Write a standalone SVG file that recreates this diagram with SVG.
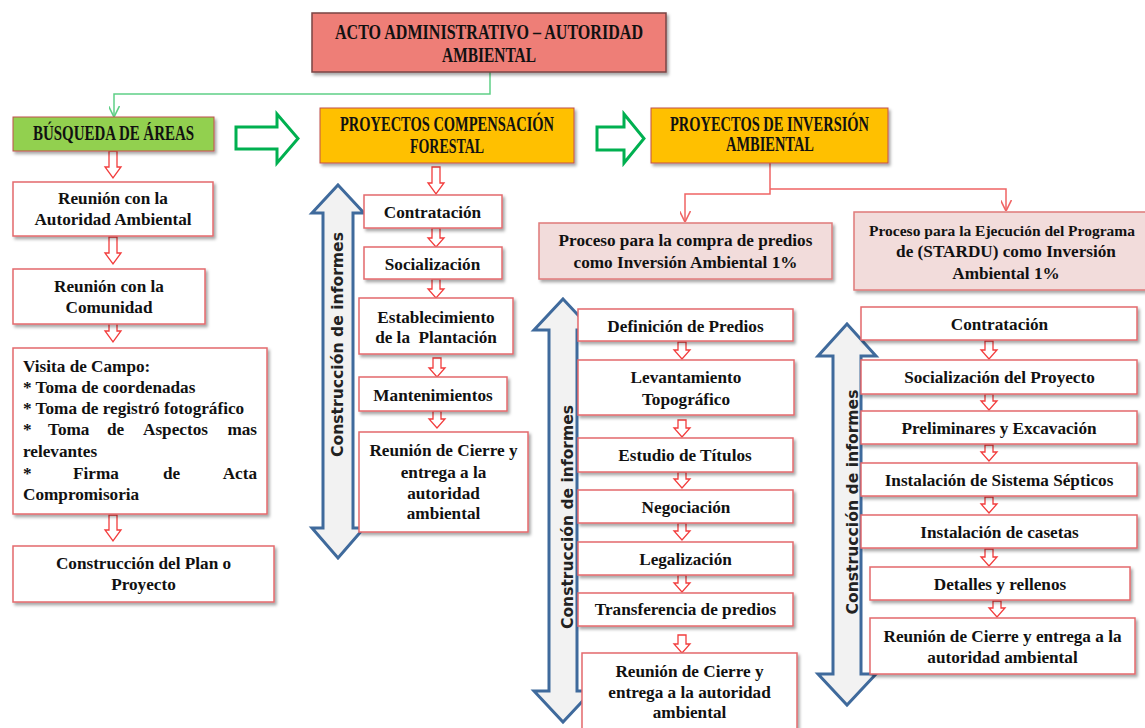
<svg xmlns="http://www.w3.org/2000/svg" width="1145" height="728" viewBox="0 0 1145 728">
<defs>
<filter id="sh" x="-10%" y="-10%" width="130%" height="140%">
<feDropShadow dx="2" dy="2.5" stdDeviation="1.5" flood-color="#000" flood-opacity="0.35"/>
</filter>
<marker id="mr" viewBox="0 0 10 10" refX="10" refY="5" markerWidth="11" markerHeight="11" markerUnits="userSpaceOnUse" orient="auto">
<path d="M0,0 L10,5 L0,10" fill="none" stroke="#f06464" stroke-width="1.5"/>
</marker>
<marker id="mg" viewBox="0 0 10 10" refX="10" refY="5" markerWidth="11" markerHeight="11" markerUnits="userSpaceOnUse" orient="auto">
<path d="M0,0 L10,5 L0,10" fill="none" stroke="#5fcf86" stroke-width="1.5"/>
</marker>
</defs>
<style>
.box{fill:#fff;stroke:#e46a6c;stroke-width:1.5;filter:url(#sh)}
.hdr{stroke:#c0504d;stroke-width:1;filter:url(#sh)}
.proc{fill:#f2dcdb;stroke:#e07a7a;stroke-width:1.5;filter:url(#sh)}
.t{font-family:"Liberation Serif","Times New Roman",serif;font-weight:bold;font-size:17.2px;fill:#111;text-anchor:middle}
.tl{font-family:"Liberation Serif","Times New Roman",serif;font-weight:bold;font-size:17.2px;fill:#111}
.h{font-family:"Liberation Serif","Times New Roman",serif;font-weight:bold;font-size:20px;fill:#111;text-anchor:middle}
.v{font-family:"DejaVu Sans","Liberation Sans",sans-serif;font-weight:bold;font-size:16px;fill:#222;text-anchor:middle}
.ra{fill:#fff;stroke:#f23c3c;stroke-width:1.3}
.ga{fill:#fff;stroke:#00b050;stroke-width:3}
.da{fill:#f2f2f2;stroke:#3f6a9c;stroke-width:3}
.cr{fill:none;stroke:#f06464;stroke-width:1.5}
.cg{fill:none;stroke:#5fcf86;stroke-width:1.5}
</style>

<g id="connectors">
<path class="cg" d="M490,72 V94 H114 V117" marker-end="url(#mg)"/>
<path class="cr" d="M770,163 V194 H685 V222" marker-end="url(#mr)"/>
<path class="cr" d="M770,189 H1006 V211" marker-end="url(#mr)"/>
<path class="ga" d="M236,127 H277 V114 L298,138.5 L277,163 V149 H236 Z"/>
<path class="ga" d="M597,127 H624 V114 L644,138.5 L624,163 V150 H597 Z"/>
<path class="ra" d="M109,151 H117 V167 H121 L113,178 L105,167 H109 Z"/>
<path class="ra" d="M109,237 H117 V253 H121 L113,264 L105,253 H109 Z"/>
<path class="ra" d="M109,317 H117 V331 H121 L113,342 L105,331 H109 Z"/>
<path class="ra" d="M109,515 H117 V530 H121 L113,541 L105,530 H109 Z"/>
<path class="ra" d="M432,167 H440 V183 H444 L436,194 L428,183 H432 Z"/>
<path class="ra" d="M432,228 H440 V238 H444 L436,247 L428,238 H432 Z"/>
<path class="ra" d="M432,279 H440 V289 H444 L436,298 L428,289 H432 Z"/>
<path class="ra" d="M433,358 H441 V368 H445 L437,377 L429,368 H433 Z"/>
<path class="ra" d="M433,411 H441 V419 H445 L437,428 L429,419 H433 Z"/>
<path class="ra" d="M678,342 H686 V350 H690 L682,359 L674,350 H678 Z"/>
<path class="ra" d="M678,420 H686 V428 H690 L682,437 L674,428 H678 Z"/>
<path class="ra" d="M678,472 H686 V479 H690 L682,488 L674,479 H678 Z"/>
<path class="ra" d="M678,523 H686 V531 H690 L682,540 L674,531 H678 Z"/>
<path class="ra" d="M678,575 H686 V583 H690 L682,592 L674,583 H678 Z"/>
<path class="ra" d="M678,635 H686 V644 H690 L682,653 L674,644 H678 Z"/>
<path class="ra" d="M985,341 H993 V350 H997 L989,359 L981,350 H985 Z"/>
<path class="ra" d="M985,394 H993 V401 H997 L989,410 L981,401 H985 Z"/>
<path class="ra" d="M985,445 H993 V452 H997 L989,461 L981,452 H985 Z"/>
<path class="ra" d="M985,497 H993 V504 H997 L989,513 L981,504 H985 Z"/>
<path class="ra" d="M985,549 H993 V557 H997 L989,566 L981,557 H985 Z"/>
<path class="ra" d="M993,601 H1001 V608 H1005 L997,617 L989,608 H993 Z"/>
</g>

<g id="informes-1">
<path class="da" d="M338,185 L364,213 H353 V528 H364 L338,558 L312,528 H323 V213 H312 Z"/>
<text class="v" transform="translate(337,344.5) rotate(-90)" x="0" y="5.5" textLength="225" lengthAdjust="spacingAndGlyphs">Construcción de informes</text>
</g>
<g id="informes-2">
<path class="da" d="M563,299 L592,330 H577 V691 H592 L563,722 L534,691 H549 V330 H534 Z"/>
<text class="v" transform="translate(567,517) rotate(-90)" x="0" y="5.5" textLength="224" lengthAdjust="spacingAndGlyphs">Construcción de informes</text>
</g>
<g id="informes-3">
<path class="da" d="M847,324 L876,356 H861 V674 H876 L847,705 L818,674 H833 V356 H818 Z"/>
<text class="v" transform="translate(852,502) rotate(-90)" x="0" y="5.5" textLength="225" lengthAdjust="spacingAndGlyphs">Construcción de informes</text>
</g>

<g id="acto">
<rect x="312" y="13" width="354" height="59" fill="#ee7e77" stroke="#7a4444" stroke-width="1.5" filter="url(#sh)"/>
<text class="h" x="489" y="39" textLength="308" lengthAdjust="spacingAndGlyphs">ACTO ADMINISTRATIVO – AUTORIDAD</text>
<text class="h" x="489" y="62" textLength="94" lengthAdjust="spacingAndGlyphs">AMBIENTAL</text>
</g>
<g id="busqueda">
<rect class="hdr" x="13" y="117" width="201" height="34" fill="#92d050"/>
<text class="h" x="113.5" y="140" textLength="161" lengthAdjust="spacingAndGlyphs">BÚSQUEDA DE ÁREAS</text>
</g>
<g id="compensacion">
<rect class="hdr" x="320" y="108" width="254" height="55" fill="#ffc000"/>
<text class="h" x="447" y="131" textLength="214" lengthAdjust="spacingAndGlyphs">PROYECTOS COMPENSACIÓN</text>
<text class="h" x="447" y="153" textLength="74" lengthAdjust="spacingAndGlyphs">FORESTAL</text>
</g>
<g id="inversion">
<rect class="hdr" x="651" y="108" width="237" height="55" fill="#ffc000"/>
<text class="h" x="769.5" y="131" textLength="199" lengthAdjust="spacingAndGlyphs">PROYECTOS DE INVERSIÓN</text>
<text class="h" x="770" y="151" textLength="88" lengthAdjust="spacingAndGlyphs">AMBIENTAL</text>
</g>

<g id="reunion-autoridad">
<rect class="box" x="13" y="182" width="200" height="54"/>
<text class="t" x="113" y="204">Reunión con la</text>
<text class="t" x="113" y="225">Autoridad Ambiental</text>
</g>
<g id="reunion-comunidad">
<rect class="box" x="13" y="269" width="192" height="55"/>
<text class="t" x="109" y="292">Reunión con la</text>
<text class="t" x="109" y="313">Comunidad</text>
</g>
<g id="visita">
<rect class="box" x="13" y="348" width="254" height="166"/>
<text class="tl" x="23" y="372">Visita de Campo:</text>
<text class="tl" x="23" y="393">* Toma de coordenadas</text>
<text class="tl" x="23" y="414">* Toma de registró fotográfico</text>
<text class="tl" x="23" y="435">*</text>
<text class="tl" x="48" y="435">Toma</text>
<text class="tl" x="107" y="435">de</text>
<text class="tl" x="143" y="435">Aspectos</text>
<text class="tl" x="257" y="435" text-anchor="end">mas</text>
<text class="tl" x="23" y="457">relevantes</text>
<text class="tl" x="23" y="479">*</text>
<text class="tl" x="73" y="479">Firma</text>
<text class="tl" x="163" y="479">de</text>
<text class="tl" x="257" y="479" text-anchor="end">Acta</text>
<text class="tl" x="23" y="500">Compromisoria</text>
</g>
<g id="construccion-plan">
<rect class="box" x="13" y="546" width="261" height="56"/>
<text class="t" x="143.5" y="569">Construcción del Plan o</text>
<text class="t" x="143.5" y="590">Proyecto</text>
</g>

<g id="m-contratacion">
<rect class="box" x="364" y="195" width="138" height="33"/>
<text class="t" x="432.5" y="218">Contratación</text>
</g>
<g id="m-socializacion">
<rect class="box" x="364" y="247" width="138" height="32"/>
<text class="t" x="432.5" y="270">Socialización</text>
</g>
<g id="m-establecimiento">
<rect class="box" x="359" y="298" width="154" height="56"/>
<text class="t" x="436" y="323">Establecimiento</text>
<text class="t" x="436" y="343" xml:space="preserve">de la  Plantación</text>
</g>
<g id="m-mantenimientos">
<rect class="box" x="359" y="377" width="148" height="34"/>
<text class="t" x="433" y="401">Mantenimientos</text>
</g>
<g id="m-cierre">
<rect class="box" x="359" y="432" width="169" height="100"/>
<text class="t" x="443.5" y="456">Reunión de Cierre y</text>
<text class="t" x="443.5" y="478">entrega a la</text>
<text class="t" x="443.5" y="499">autoridad</text>
<text class="t" x="443.5" y="519">ambiental</text>
</g>

<g id="p-compra">
<rect class="proc" x="539" y="223" width="293" height="56"/>
<text class="t" x="685.5" y="246">Proceso para la compra de predios</text>
<text class="t" x="685.5" y="268">como Inversión Ambiental 1%</text>
</g>
<g id="c2-definicion">
<rect class="box" x="578" y="309" width="215" height="32"/>
<text class="t" x="685.5" y="332">Definición de Predios</text>
</g>
<g id="c2-levantamiento">
<rect class="box" x="578" y="360" width="216" height="55"/>
<text class="t" x="686" y="383">Levantamiento</text>
<text class="t" x="686" y="405">Topográfico</text>
</g>
<g id="c2-estudio">
<rect class="box" x="578" y="438" width="215" height="34"/>
<text class="t" x="685" y="461">Estudio de Títulos</text>
</g>
<g id="c2-negociacion">
<rect class="box" x="578" y="490" width="215" height="33"/>
<text class="t" x="686" y="513">Negociación</text>
</g>
<g id="c2-legalizacion">
<rect class="box" x="578" y="542" width="215" height="33"/>
<text class="t" x="685.5" y="565">Legalización</text>
</g>
<g id="c2-transferencia">
<rect class="box" x="578" y="593" width="215" height="33"/>
<text class="t" x="685.5" y="615">Transferencia de predios</text>
</g>
<g id="c2-cierre">
<rect class="box" x="582" y="653" width="215" height="80"/>
<text class="t" x="689.5" y="677">Reunión de Cierre y</text>
<text class="t" x="689.5" y="698">entrega a la autoridad</text>
<text class="t" x="689.5" y="718">ambiental</text>
</g>

<g id="p-stardu">
<rect class="proc" x="854" y="212" width="300" height="78"/>
<text class="t" x="1002" y="236" style="font-size:15.5px">Proceso para la Ejecución del Programa</text>
<text class="t" x="1006" y="257">de (STARDU) como Inversión</text>
<text class="t" x="1006" y="279">Ambiental 1%</text>
</g>
<g id="c3-contratacion">
<rect class="box" x="861" y="307" width="276" height="33"/>
<text class="t" x="999.5" y="330">Contratación</text>
</g>
<g id="c3-socializacion">
<rect class="box" x="861" y="360" width="276" height="34"/>
<text class="t" x="999.5" y="383">Socialización del Proyecto</text>
</g>
<g id="c3-preliminares">
<rect class="box" x="861" y="411" width="276" height="33"/>
<text class="t" x="999" y="434">Preliminares y Excavación</text>
</g>
<g id="c3-septicos">
<rect class="box" x="861" y="463" width="276" height="33"/>
<text class="t" x="999" y="486">Instalación de Sistema Sépticos</text>
</g>
<g id="c3-casetas">
<rect class="box" x="861" y="515" width="276" height="33"/>
<text class="t" x="999.5" y="538">Instalación de casetas</text>
</g>
<g id="c3-detalles">
<rect class="box" x="870" y="567" width="260" height="33"/>
<text class="t" x="1000" y="590">Detalles y rellenos</text>
</g>
<g id="c3-cierre">
<rect class="box" x="870" y="618" width="265" height="56"/>
<text class="t" x="1002.5" y="642">Reunión de Cierre y entrega a la</text>
<text class="t" x="1002.5" y="663">autoridad ambiental</text>
</g>
</svg>
